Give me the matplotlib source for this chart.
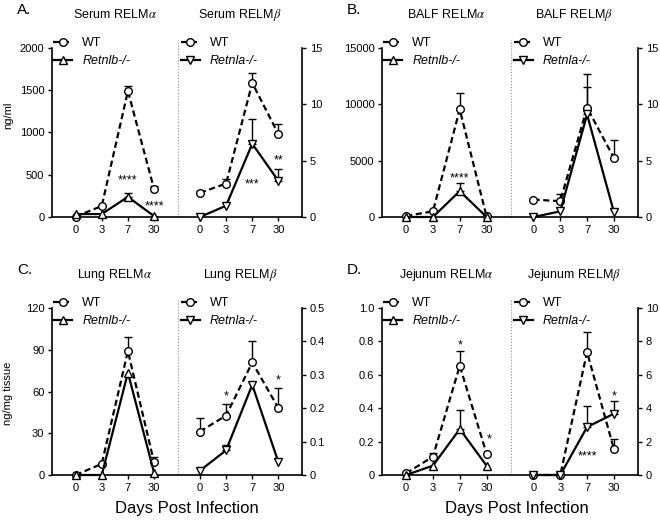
import matplotlib.pyplot as plt
import numpy as np
from matplotlib.lines import Line2D

plt.rcParams['font.family'] = ['Liberation Sans', 'DejaVu Sans']
plt.rcParams['mathtext.fontset'] = 'stix'

# =========================
# DATA (mean, upper error)
# =========================
days = ["0", "3", "7", "30"]

# A. Serum
serum_a_wt = [5, 130, 1490, 329]
serum_a_wt_err = [0, 0, 55, 40]
serum_a_ko = [35, 35, 238, 10]
serum_a_ko_err = [0, 0, 45, 0]
serum_b_wt = [2.14, 2.97, 11.9, 7.34]
serum_b_wt_err = [0.15, 0.4, 0.9, 0.95]
serum_b_ko = [0.0, 1.0, 6.5, 3.2]
serum_b_ko_err = [0, 0, 2.2, 1.1]

# B. BALF
balf_a_wt = [100, 500, 9550, 50]
balf_a_wt_err = [0, 0, 1500, 0]
balf_a_ko = [0, 0, 2300, 0]
balf_a_ko_err = [0, 0, 750, 0]
balf_b_wt = [1.55, 1.4, 9.7, 5.25]
balf_b_wt_err = [0, 0.6, 3.0, 1.6]
balf_b_ko = [0.0, 0.5, 9.1, 0.45]
balf_b_ko_err = [0, 0, 2.4, 0]

# C. Lung
lung_a_wt = [0, 8, 89, 9]
lung_a_wt_err = [0, 0, 10, 4]
lung_a_ko = [0, 0, 73.5, 1.5]
lung_a_ko_err = [0, 0, 0, 0]
lung_b_wt = [0.13, 0.178, 0.337, 0.20]
lung_b_wt_err = [0.042, 0.035, 0.063, 0.06]
lung_b_ko = [0.013, 0.074, 0.27, 0.038]
lung_b_ko_err = [0, 0.017, 0, 0]

# D. Jejunum
jej_a_wt = [0.01, 0.11, 0.654, 0.128]
jej_a_wt_err = [0, 0.02, 0.09, 0]
jej_a_ko = [0.0, 0.056, 0.275, 0.056]
jej_a_ko_err = [0, 0, 0.115, 0]
jej_b_wt = [0, 0, 7.36, 1.56]
jej_b_wt_err = [0, 0, 1.18, 0.6]
jej_b_ko = [0, 0, 2.87, 3.67]
jej_b_ko_err = [0, 0, 1.24, 0.74]

# significance marks: (text, day index, y value)
serum_a_stars = [("****", 2, 476), ("****", 3, 166)]
serum_b_stars = [("***", 2, 3.2), ("**", 3, 5.4)]
balf_a_stars = [("****", 2, 3800)]
balf_b_stars = []
lung_a_stars = []
lung_b_stars = [("*", 1, 0.248), ("*", 3, 0.295)]
jej_a_stars = [("*", 2, 0.80), ("*", 3.1, 0.237)]
jej_b_stars = [("*", 3, 4.97), ("****", 2, 1.32)]

# =========================
# FIGURE
# =========================
W, H = 660, 522
fig = plt.figure(figsize=(W / 100, H / 100), dpi=100)

xl = np.arange(4)
xr = xl + 4.75
XMIN, XMAX, XDIV = -0.9, 8.65, 3.9
DASH = (0, (2.8, 1.6))


def px_rect(x0, x1, ytop, ybot):
    return [x0 / W, 1 - ybot / H, (x1 - x0) / W, (ybot - ytop) / H]


def series(axis, x, y, err, dashed, marker):
    y = np.asarray(y, float)
    err = np.asarray(err, float)
    m = err > 0
    if m.any():
        axis.errorbar(x[m], y[m], yerr=[np.zeros(m.sum()), err[m]], fmt='none',
                      ecolor='black', elinewidth=1, capsize=3, capthick=1,
                      zorder=2, clip_on=False)
    axis.plot(x, y, color='black', lw=1.6, ls=DASH if dashed else '-',
              marker=marker, ms=5.5, mfc='white', mec='black', mew=1,
              zorder=3, clip_on=False)


def stars(axis, x, marks):
    for s, i, v in marks:
        xi = x[0] + i
        axis.annotate(s, (xi, v), xytext=(0, -5), textcoords='offset points',
                      ha='center', va='baseline', fontsize=9)


def legend(axis, xpx, ytop, ko_label, ko_marker):
    handles = [
        Line2D([], [], color='black', lw=1.6, ls=DASH, marker='o', ms=5.5,
               mfc='white', mec='black', mew=1),
        Line2D([], [], color='black', lw=1.6, ls='-', marker=ko_marker, ms=5.5,
               mfc='white', mec='black', mew=1),
    ]
    leg = axis.legend(handles, ["WT", ko_label], loc='upper left',
                      bbox_to_anchor=(xpx / W, 1 - ytop / H),
                      bbox_transform=fig.transFigure, frameon=False,
                      fontsize=9, handlelength=1.55, handletextpad=0.8,
                      labelspacing=0.5, borderpad=0, borderaxespad=0,
                      numpoints=1)
    leg.get_texts()[1].set_style('italic')
    leg.set_zorder(10)


def panel(rect_px, letter, tissue,
          a_wt, a_wt_err, a_ko, a_ko_err, b_wt, b_wt_err, b_ko, b_ko_err,
          lticks, llabels, rticks, rlabels, a_stars, b_stars):
    x0, x1, ytop, ybot = rect_px
    ax = fig.add_axes(px_rect(*rect_px))
    ax2 = ax.twinx()

    series(ax, xl, a_wt, a_wt_err, True, 'o')
    series(ax, xl, a_ko, a_ko_err, False, '^')
    series(ax2, xr, b_wt, b_wt_err, True, 'o')
    series(ax2, xr, b_ko, b_ko_err, False, 'v')
    stars(ax, xl, a_stars)
    stars(ax2, xr, b_stars)

    ax.set_xlim(XMIN, XMAX)
    ax.set_ylim(0, lticks[-1])
    ax2.set_ylim(0, rticks[-1])
    ax.set_xticks(list(xl) + list(xr))
    ax.set_xticklabels(days * 2)
    ax.set_yticks(lticks)
    ax.set_yticklabels(llabels)
    ax2.set_yticks(rticks)
    ax2.set_yticklabels(rlabels)

    for a in (ax, ax2):
        for sp in a.spines.values():
            sp.set_linewidth(1.2)
        a.spines['top'].set_visible(False)
        a.tick_params(direction='out', length=3, width=1, labelsize=8, pad=2.5)
    ax.spines['right'].set_visible(False)
    ax2.spines['left'].set_visible(False)
    ax2.spines['bottom'].set_visible(False)

    # separator between the two halves
    ax.plot([XDIV, XDIV], [0, 1.05], transform=ax.get_xaxis_transform(),
            ls=':', color='0.55', lw=0.8, clip_on=False)

    ty = 1 + 33 / (ybot - ytop)
    ax.text(1.5, ty, tissue + r" RELM$\alpha$", transform=ax.get_xaxis_transform(),
            ha='center', va='center', fontsize=9)
    ax.text((XDIV + XMAX) / 2, ty, tissue + r" RELM$\beta$",
            transform=ax.get_xaxis_transform(), ha='center', va='center', fontsize=9)
    fig.text((x0 - 35) / W, 1 - (ytop - 38) / H, letter, fontsize=11, va='center')

    xdiv_px = x0 + (XDIV - XMIN) / (XMAX - XMIN) * (x1 - x0)
    legend(ax, x0 + 1, ytop - 11, "Retnlb-/-", '^')
    legend(ax2, xdiv_px + 3, ytop - 11, "Retnla-/-", 'v')
    return ax


panel((52, 302, 48, 217), "A.", "Serum",
      serum_a_wt, serum_a_wt_err, serum_a_ko, serum_a_ko_err,
      serum_b_wt, serum_b_wt_err, serum_b_ko, serum_b_ko_err,
      [0, 500, 1000, 1500, 2000], ["0", "500", "1000", "1500", "2000"],
      [0, 5, 10, 15], ["0", "5", "10", "15"], serum_a_stars, serum_b_stars)

panel((382, 638, 48, 217), "B.", "BALF",
      balf_a_wt, balf_a_wt_err, balf_a_ko, balf_a_ko_err,
      balf_b_wt, balf_b_wt_err, balf_b_ko, balf_b_ko_err,
      [0, 5000, 10000, 15000], ["0", "5000", "10000", "15000"],
      [0, 5, 10, 15], ["0", "5", "10", "15"], balf_a_stars, balf_b_stars)

panel((52, 302, 308, 475), "C.", "Lung",
      lung_a_wt, lung_a_wt_err, lung_a_ko, lung_a_ko_err,
      lung_b_wt, lung_b_wt_err, lung_b_ko, lung_b_ko_err,
      [0, 30, 60, 90, 120], ["0", "30", "60", "90", "120"],
      [0, 0.1, 0.2, 0.3, 0.4, 0.5], ["0", "0.1", "0.2", "0.3", "0.4", "0.5"],
      lung_a_stars, lung_b_stars)

panel((382, 638, 308, 475), "D.", "Jejunum",
      jej_a_wt, jej_a_wt_err, jej_a_ko, jej_a_ko_err,
      jej_b_wt, jej_b_wt_err, jej_b_ko, jej_b_ko_err,
      [0, 0.2, 0.4, 0.6, 0.8, 1.0], ["0", "0.2", "0.4", "0.6", "0.8", "1.0"],
      [0, 2, 4, 6, 8, 10], ["0", "2", "4", "6", "8", "10"],
      jej_a_stars, jej_b_stars)

# axis labels
fig.text(8 / W, 1 - 115 / H, "ng/ml", rotation=90, ha='center', va='center', fontsize=8)
fig.text(8 / W, 1 - 393 / H, "ng/mg tissue", rotation=90, ha='center', va='center', fontsize=8)
fig.text(187 / W, 1 - 508 / H, "Days Post Infection", ha='center', va='center', fontsize=12)
fig.text(517 / W, 1 - 508 / H, "Days Post Infection", ha='center', va='center', fontsize=12)

plt.savefig("out.png", dpi=100)
